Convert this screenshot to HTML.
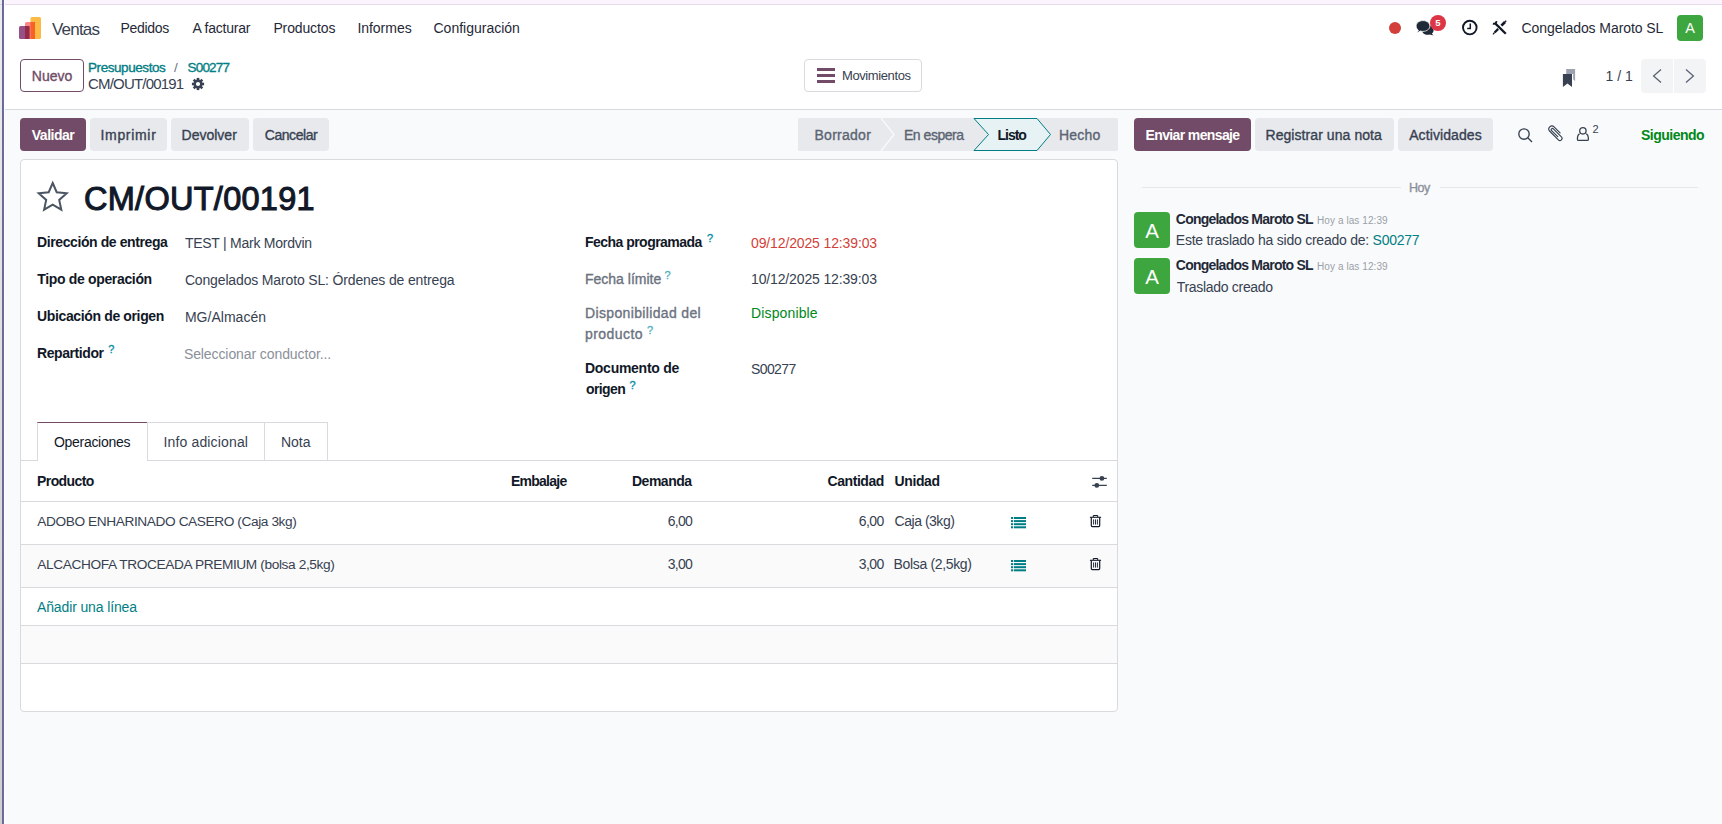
<!DOCTYPE html>
<html lang="es">
<head>
<meta charset="utf-8">
<title>Odoo - CM/OUT/00191</title>
<style>
*{box-sizing:border-box;margin:0;padding:0}
html,body{width:1722px;height:824px;overflow:hidden}
body{font-family:"Liberation Sans",sans-serif;font-size:14px;line-height:21px;color:#374151;background:#f9fafb;position:relative}
.abs{position:absolute}
.t{position:absolute;white-space:nowrap;line-height:20px;height:20px}
.sb{-webkit-text-stroke:0.35px currentColor}
.b{font-weight:bold}
.teal{color:#017e84}
/* window chrome on the left/top */
#edge0{left:0;top:0;width:2px;height:824px;background:linear-gradient(#ececec,#cfcfcf)}
#edge3{left:4px;top:0;width:1px;height:824px;background:#fff}
#edge1{left:2px;top:0;width:1px;height:824px;background:#6e6e6e}
#edge2{left:3px;top:0;width:1px;height:824px;background:#6666cc}
#topstrip{left:5px;top:0;width:1718px;height:4px;background:#fdf5fd}
#topline{left:5px;top:4px;width:1717px;height:1px;background:#e4dcea}
#topline2{left:0;top:4px;width:2px;height:1px;background:#d8d0dc}
/* navbar */
#navbar{left:4px;top:5px;width:1718px;height:46px;background:#fff}
#cpanel{left:4px;top:51px;width:1718px;height:59px;background:#fff;border-bottom:1px solid #d8dadd}
.btn{position:absolute;height:33px;border-radius:4px;background:#e7e9ed;color:#374151;text-align:center;line-height:35px;white-space:nowrap}
.btn.pri{background:#714b67;color:#fff;font-weight:bold}
.btn.out{background:#fff;border:1px solid #714b67;color:#714b67;line-height:33px}
/* sheet */
#sheet{left:20px;top:159px;width:1098px;height:553px;background:#fff;border:1px solid #d8dadd;border-radius:4px}
.hl{position:absolute;height:1px;background:#d8dadd}
.vl{position:absolute;width:1px;background:#d8dadd}
.q{color:#0b8fa6;font-size:11px;font-weight:normal;-webkit-text-stroke:.35px currentColor;position:absolute;line-height:12px}
.mut{color:#6b7280}
.avatar{position:absolute;background:#3ea63e;color:#fff;border-radius:4px;text-align:center}
#bDevolver,#bNota{position:relative;left:-0.8px}
/*LS-START*/
#n0{letter-spacing:-0.80px;left:52.0px !important}
#n1{letter-spacing:-0.30px;left:120.5px !important}
#n2{letter-spacing:-0.20px;left:192.4px !important}
#n3{letter-spacing:-0.13px;left:273.4px !important}
#n4{letter-spacing:-0.03px;left:357.4px !important}
#n5{letter-spacing:0.00px;left:433.5px !important}
#n6{letter-spacing:-0.07px;left:1521.5px !important}
#bNuevo{letter-spacing:-0.03px}
#c0{letter-spacing:-0.43px;left:88.0px !important}
#c1{letter-spacing:0.00px;left:174.0px !important}
#c2{letter-spacing:-0.80px;left:187.5px !important}
#c3{letter-spacing:-0.81px;left:88.0px !important}
#c4{letter-spacing:-0.40px;left:842.0px !important}
#c5{letter-spacing:0.03px;left:1605.5px !important}
#bValidar{letter-spacing:-0.51px}
#bImprimir{letter-spacing:0.69px}
#bDevolver{letter-spacing:0.00px}
#bCancelar{letter-spacing:-0.45px}
#s0{letter-spacing:0.26px;left:814.5px !important}
#s1{letter-spacing:-0.48px;left:904.0px !important}
#s2{letter-spacing:-1.03px;left:997.5px !important}
#s3{letter-spacing:0.22px;left:1059.0px !important}
#bEnviar{letter-spacing:-0.63px}
#bNota{letter-spacing:0.07px}
#bAct{letter-spacing:0.10px}
#ch0{letter-spacing:-0.50px;left:1641.0px !important}
#ch2{letter-spacing:-0.50px;left:1409.0px !important}
#m0{letter-spacing:-0.77px;left:1175.8px !important}
#m1{letter-spacing:0.08px;left:1317.0px !important}
#m2{letter-spacing:-0.24px;left:1175.8px !important}
#m3{letter-spacing:-0.77px;left:1175.8px !important}
#m4{letter-spacing:0.08px;left:1317.0px !important}
#m5{letter-spacing:-0.31px;left:1176.8px !important}
#h1{letter-spacing:0.28px;left:84.0px !important}
#l0{letter-spacing:-0.40px;left:37.0px !important}
#v0{letter-spacing:-0.25px;left:184.9px !important}
#l1{letter-spacing:-0.34px;left:37.3px !important}
#v1{letter-spacing:-0.15px;left:184.9px !important}
#l2{letter-spacing:-0.36px;left:37.0px !important}
#v2{letter-spacing:0.03px;left:184.9px !important}
#l3{letter-spacing:-0.42px;left:37.0px !important}
#v3{letter-spacing:-0.09px;left:183.9px !important}
#l4{letter-spacing:-0.53px;left:585.0px !important}
#v4{letter-spacing:-0.13px;left:751.0px !important}
#l5{letter-spacing:0.00px;left:585.0px !important}
#v5{letter-spacing:-0.14px;left:751.0px !important}
#l6{letter-spacing:0.35px;left:585.0px !important}
#l7{letter-spacing:0.43px;left:585.0px !important}
#v6{letter-spacing:0.14px;left:751.0px !important}
#l8{letter-spacing:-0.27px;left:585.0px !important}
#l9{letter-spacing:-0.60px;left:586.0px !important}
#v7{letter-spacing:-0.60px;left:751.0px !important}
#tb0{letter-spacing:-0.30px;left:54.0px !important}
#tb1{letter-spacing:0.16px;left:163.4px !important}
#tb2{letter-spacing:0.00px;left:280.9px !important}
#th0{letter-spacing:-0.58px;left:37.0px !important}
#th1{letter-spacing:-0.73px;left:510.9px !important}
#th2{letter-spacing:-0.50px;left:632.0px !important}
#th3{letter-spacing:-0.43px;left:827.5px !important}
#th4{letter-spacing:-0.40px;left:894.6px !important}
#r0a{letter-spacing:-0.41px;left:37.3px !important}
#r0b{letter-spacing:-0.72px;left:667.7px !important}
#r0c{letter-spacing:-0.58px;left:858.8px !important}
#r0d{letter-spacing:-0.48px;left:894.6px !important}
#r1a{letter-spacing:-0.38px;left:37.3px !important}
#r1b{letter-spacing:-0.72px;left:667.7px !important}
#r1c{letter-spacing:-0.58px;left:858.8px !important}
#r1d{letter-spacing:-0.35px;left:893.6px !important}
#r2a{letter-spacing:-0.13px;left:37.0px !important}
/*LS-END*/
</style>
</head>
<body>
<div class="abs" id="navbar"></div>
<div class="abs" id="cpanel"></div>
<div class="abs" id="edge0"></div><div class="abs" id="edge1"></div><div class="abs" id="edge2"></div><div class="abs" id="edge3"></div>
<div class="abs" id="topstrip"></div><div class="abs" id="topline"></div><div class="abs" id="topline2"></div>

<!-- NAVBAR -->
<svg class="abs" style="left:19px;top:17px" width="22" height="22" viewBox="0 0 22 22">
  <rect x="11.5" y="0" width="10.5" height="22" rx="1.6" fill="#fbb945"/>
  <rect x="6" y="5" width="10" height="17" rx="1.6" fill="#fc868b"/>
  <rect x="11.5" y="5" width="4.5" height="17" fill="#f86126"/>
  <rect x="0" y="9" width="10.5" height="13" rx="1.6" fill="#985184"/>
  <rect x="6" y="9" width="4.5" height="13" fill="#962b48"/>
</svg>
<span class="t" id="n0" style="left:51px;top:20px;font-size:17px;color:#374151">Ventas</span>
<span class="t" id="n1" style="left:121px;top:18px;color:#1f2937">Pedidos</span>
<span class="t" id="n2" style="left:191.5px;top:18px;color:#1f2937">A facturar</span>
<span class="t" id="n3" style="left:273.5px;top:18px;color:#1f2937">Productos</span>
<span class="t" id="n4" style="left:357.5px;top:18px;color:#1f2937">Informes</span>
<span class="t" id="n5" style="left:433.5px;top:18px;color:#1f2937">Configuración</span>

<div class="abs" style="left:1389px;top:22px;width:12px;height:12px;border-radius:50%;background:#d23f3a"></div>
<span class="t" id="n6" style="left:1521.5px;top:18px;color:#1f2937">Congelados Maroto SL</span>
<div class="avatar" style="left:1677px;top:15px;width:26px;height:26px;font-size:14.5px;line-height:26px;border-radius:4px">A</div>

<!-- CONTROL PANEL -->
<div class="btn out sb" style="left:20px;top:59px;width:64px"><span id="bNuevo">Nuevo</span></div>
<span class="t sb teal" id="c0" style="left:88px;top:58px;font-size:13.5px">Presupuestos</span>
<span class="t" id="c1" style="left:174px;top:58px;font-size:13.5px;color:#6b7280">/</span>
<span class="t sb teal" id="c2" style="left:187.5px;top:58px;font-size:13.5px">S00277</span>
<span class="t" id="c3" style="left:88px;top:74px;font-size:15px;color:#374151">CM/OUT/00191</span>

<div class="abs" style="left:804px;top:59px;width:118px;height:33px;border:1px solid #d8dadd;border-radius:4px;background:#fff"></div>
<div class="abs" style="left:817px;top:68px;width:18px;height:3px;background:#714b67"></div>
<div class="abs" style="left:817px;top:74px;width:18px;height:3px;background:#714b67"></div>
<div class="abs" style="left:817px;top:80px;width:18px;height:3px;background:#714b67"></div>
<span class="t" id="c4" style="left:842px;top:66px;font-size:13px;color:#374151">Movimientos</span>

<span class="t" id="c5" style="left:1605.5px;top:66px;color:#374151">1 / 1</span>
<div class="abs" style="left:1641px;top:59px;width:32px;height:34px;background:#f3f4f6;border-radius:4px 0 0 4px"></div>
<div class="abs" style="left:1674px;top:59px;width:32px;height:34px;background:#f3f4f6;border-radius:0 4px 4px 0"></div>
<svg class="abs" style="left:1641px;top:59px" width="65" height="34" viewBox="0 0 65 34" fill="none" stroke="#5b6370" stroke-width="1.3"><polyline points="20,10.5 12.6,17 20,23.5"/><polyline points="45,10.5 52.4,17 45,23.5"/></svg>

<!-- STATUS BAR BUTTONS -->
<div class="btn pri" style="left:20px;top:118px;width:66px"><span id="bValidar">Validar</span></div>
<div class="btn sb" style="left:90px;top:118px;width:77px"><span id="bImprimir">Imprimir</span></div>
<div class="btn sb" style="left:171px;top:118px;width:78px"><span id="bDevolver">Devolver</span></div>
<div class="btn sb" style="left:253px;top:118px;width:76px"><span id="bCancelar">Cancelar</span></div>

<!-- STATUS ARROWS -->
<svg class="abs" style="left:798px;top:118px" width="320" height="33" viewBox="0 0 320 33">
  <rect x="0" y="0" width="320" height="33" rx="1.5" fill="#e7e9ed"/>
  <polyline points="83,0 96,16.5 83,33" fill="none" stroke="#f9fafb" stroke-width="1.3"/>
  <polygon points="176,0.5 239,0.5 252.5,16.5 239,32.5 176,32.5 190.5,16.5" fill="#e6f2f3" stroke="#017e84" stroke-width="1"/>
</svg>
<span class="t sb" id="s0" style="left:815.5px;top:124.5px;color:#5b6472">Borrador</span>
<span class="t sb" id="s1" style="left:904px;top:124.5px;color:#5b6472">En espera</span>
<span class="t b" id="s2" style="left:997.5px;top:124.5px;color:#111827">Listo</span>
<span class="t sb" id="s3" style="left:1060px;top:124.5px;color:#5b6472">Hecho</span>

<!-- CHATTER TOP -->
<div class="btn pri" style="left:1134px;top:118px;width:117px"><span id="bEnviar">Enviar mensaje</span></div>
<div class="btn sb" style="left:1255px;top:118px;width:139px"><span id="bNota">Registrar una nota</span></div>
<div class="btn sb" style="left:1398px;top:118px;width:95px"><span id="bAct">Actividades</span></div>
<span class="t b" id="ch0" style="left:1641px;top:124.5px;color:#008818">Siguiendo</span>
<span class="t" id="ch1" style="left:1592.5px;top:119px;font-size:11px;color:#374151">2</span>

<div class="hl" style="left:1142px;top:187px;width:259px;background:#e5e7eb"></div>
<div class="hl" style="left:1440px;top:187px;width:258px;background:#e5e7eb"></div>
<span class="t sb" id="ch2" style="left:1409px;top:177.5px;font-size:12.5px;color:#8b909a">Hoy</span>

<div class="avatar" style="left:1134px;top:212px;width:36px;height:36px;font-size:20.5px;line-height:37px">A</div>
<span class="t b" id="m0" style="left:1176px;top:209px;color:#1f2937">Congelados Maroto SL</span>
<span class="t" id="m1" style="left:1318px;top:211px;font-size:10px;color:#9aa0a8">Hoy a las 12:39</span>
<span class="t" id="m2" style="left:1176px;top:230px;color:#374151">Este traslado ha sido creado de: <span class="teal" id="m2b">S00277</span></span>
<div class="avatar" style="left:1134px;top:258px;width:36px;height:36px;font-size:20.5px;line-height:37px">A</div>
<span class="t b" id="m3" style="left:1176px;top:255px;color:#1f2937">Congelados Maroto SL</span>
<span class="t" id="m4" style="left:1318px;top:257px;font-size:10px;color:#9aa0a8">Hoy a las 12:39</span>
<span class="t" id="m5" style="left:1176px;top:277px;color:#374151">Traslado creado</span>

<!-- FORM SHEET -->
<div class="abs" id="sheet"></div>
<span class="t" id="h1" style="left:84px;top:177px;font-size:32.5px;line-height:44px;height:44px;color:#111827;-webkit-text-stroke:1.05px #111827">CM/OUT/00191</span>

<span class="t b" id="l0" style="left:37px;top:232px;color:#111827">Dirección de entrega</span>
<span class="t" id="v0" style="left:185px;top:233px">TEST | Mark Mordvin</span>
<span class="t b" id="l1" style="left:37px;top:269px;color:#111827">Tipo de operación</span>
<span class="t" id="v1" style="left:185px;top:270px">Congelados Maroto SL: Órdenes de entrega</span>
<span class="t b" id="l2" style="left:37px;top:306px;color:#111827">Ubicación de origen</span>
<span class="t" id="v2" style="left:185px;top:307px">MG/Almacén</span>
<span class="t b" id="l3" style="left:37px;top:343px;color:#111827">Repartidor</span>
<span class="q" style="left:108.2px;top:343px">?</span>
<span class="t" id="v3" style="left:185px;top:344px;color:#8b909a">Seleccionar conductor...</span>

<span class="t b" id="l4" style="left:585px;top:232px;color:#111827">Fecha programada</span>
<span class="q" style="left:707px;top:232px">?</span>
<span class="t" id="v4" style="left:751px;top:233px;color:#d23f3a">09/12/2025 12:39:03</span>
<span class="t sb mut" id="l5" style="left:585px;top:269px">Fecha límite</span>
<span class="q" style="left:664.5px;top:269px;opacity:.7">?</span>
<span class="t" id="v5" style="left:751px;top:269px">10/12/2025 12:39:03</span>
<span class="t sb mut" id="l6" style="left:585px;top:303px">Disponibilidad del</span>
<span class="t sb mut" id="l7" style="left:585px;top:324px">producto</span>
<span class="q" style="left:647px;top:324px;opacity:.7">?</span>
<span class="t" id="v6" style="left:751px;top:303px;color:#008818">Disponible</span>
<span class="t b" id="l8" style="left:585px;top:358px;color:#111827">Documento de</span>
<span class="t b" id="l9" style="left:585px;top:379px;color:#111827">origen</span>
<span class="q" style="left:629.5px;top:379px">?</span>
<span class="t" id="v7" style="left:751px;top:359px">S00277</span>

<!-- NOTEBOOK TABS -->
<div class="hl" style="left:21px;top:460px;width:1096px"></div>
<div class="abs" style="left:37px;top:422px;width:111px;height:39px;background:#fff;border:1px solid #d8dadd;border-top-color:#714b67;border-bottom:none"></div>
<div class="abs" style="left:147px;top:422px;width:118px;height:38px;border:1px solid #d8dadd;border-bottom:none;border-left:none"></div>
<div class="abs" style="left:264px;top:422px;width:64px;height:38px;border:1px solid #d8dadd;border-bottom:none;border-left:none"></div>
<span class="t" id="tb0" style="left:54px;top:432px;color:#111827">Operaciones</span>
<span class="t" id="tb1" style="left:164.5px;top:432px">Info adicional</span>
<span class="t" id="tb2" style="left:281px;top:432px">Nota</span>

<!-- TABLE -->
<span class="t b" id="th0" style="left:37px;top:471px;color:#111827">Producto</span>
<span class="t b" id="th1" style="left:510.5px;top:471px;color:#111827">Embalaje</span>
<span class="t b" id="th2" style="left:632px;top:471px;color:#111827">Demanda</span>
<span class="t b" id="th3" style="left:827.5px;top:471px;color:#111827">Cantidad</span>
<span class="t b" id="th4" style="left:894px;top:471px;color:#111827">Unidad</span>
<div class="hl" style="left:21px;top:501px;width:1096px"></div>
<span class="t" id="r0a" style="left:37px;top:512px;font-size:13.7px">ADOBO ENHARINADO CASERO (Caja 3kg)</span>
<span class="t" id="r0b" style="left:667.5px;top:511px">6,00</span>
<span class="t" id="r0c" style="left:859px;top:511px">6,00</span>
<span class="t" id="r0d" style="left:894px;top:511px">Caja (3kg)</span>
<div class="hl" style="left:21px;top:544px;width:1096px"></div>
<div class="abs" style="left:21px;top:545px;width:1096px;height:42px;background:#fafafa"></div>
<span class="t" id="r1a" style="left:37px;top:555px;font-size:13.7px">ALCACHOFA TROCEADA PREMIUM (bolsa 2,5kg)</span>
<span class="t" id="r1b" style="left:667.5px;top:554px">3,00</span>
<span class="t" id="r1c" style="left:859px;top:554px">3,00</span>
<span class="t" id="r1d" style="left:894px;top:554px">Bolsa (2,5kg)</span>
<div class="hl" style="left:21px;top:587px;width:1096px"></div>
<span class="t teal" id="r2a" style="left:37px;top:597px">Añadir una línea</span>
<div class="hl" style="left:21px;top:625px;width:1096px"></div>
<div class="abs" style="left:21px;top:626px;width:1096px;height:37px;background:#fafafa"></div>
<div class="hl" style="left:21px;top:663px;width:1096px"></div>


<!-- ICONS -->
<svg class="abs" style="left:1414px;top:18px" width="24" height="20" viewBox="0 0 24 20">
  <path d="M13.6 7.5 C17.2 7.5 19.6 9.6 19.6 12.2 C19.6 13.6 18.9 14.8 17.8 15.6 C18.2 16.4 18.9 16.9 19.6 17.2 C18.2 17.3 16.9 17 15.9 16.4 C15.2 16.6 14.4 16.7 13.6 16.7 C10.4 16.7 8 14.6 8 12.2 Z" fill="#1f2937"/>
  <path d="M9 2.6 C12.8 2.6 15.9 5 15.9 8 C15.9 11 12.8 13.4 9 13.4 C8.1 13.4 7.2 13.3 6.4 13 C5.4 13.8 4.1 14.4 2.7 14.5 C3.5 13.9 4.1 13.1 4.4 12.2 C3 11.2 2.1 9.7 2.1 8 C2.1 5 5.2 2.6 9 2.6 Z" fill="#1f2937" stroke="#fff" stroke-width="0.8"/>
</svg>
<div class="abs" style="left:1430px;top:15px;width:16px;height:16px;border-radius:8px;background:#dc3545;color:#fff;font-size:9.5px;font-weight:bold;line-height:16.5px;text-align:center">5</div>
<svg class="abs" style="left:1460px;top:18px" width="20" height="20" viewBox="0 0 20 20" fill="none" stroke="#111827">
  <circle cx="9.8" cy="9.6" r="6.8" stroke-width="1.9"/>
  <polyline points="10.3,5.6 10.3,10.4 7.2,10.4" stroke-width="1.5"/>
</svg>
<svg class="abs" style="left:1491px;top:19px" width="18" height="18" viewBox="0 0 18 18" fill="none" stroke="#111827" stroke-linecap="butt">
  <path d="M4.2 4.4 L14.8 14.8" stroke-width="2.3"/>
  <path d="M1.9 4.6 A2.8 2.8 0 0 0 5.6 2.2" stroke-width="1.8"/>
  <path d="M14 3 L10.4 6.6" stroke-width="2.7"/>
  <path d="M7.2 9.9 L3.6 13.5" stroke-width="2.2"/>
  <path d="M3.6 13.5 L2 15.4" stroke-width="1.2"/>
  <path d="M15.2 1.8 L13.9 3.1" stroke-width="1.4"/>
</svg>
<svg class="abs" style="left:1561px;top:67px" width="16" height="22" viewBox="0 0 16 22">
  <path d="M5.2 2.1 H14.1 V14 L12.2 12.6 V7 H5.2 Z" fill="#9ca3af"/>
  <path d="M1.9 7 H11 V20 L6.45 16.6 L1.9 20 Z" fill="#374151"/>
</svg>
<svg class="abs" style="left:191px;top:77px" width="14" height="14" viewBox="-7 -7 14 14">
  <g fill="#374151">
    <rect x="-1.3" y="-6.1" width="2.6" height="12.2"/>
    <rect x="-1.3" y="-6.1" width="2.6" height="12.2" transform="rotate(45)"/>
    <rect x="-1.3" y="-6.1" width="2.6" height="12.2" transform="rotate(90)"/>
    <rect x="-1.3" y="-6.1" width="2.6" height="12.2" transform="rotate(135)"/>
    <circle r="4.5"/>
  </g>
  <circle r="2.1" fill="#fff"/>
</svg>
<svg class="abs" style="left:35px;top:179px" width="36" height="36" viewBox="0 0 36 36">
  <path d="M17.7 4 L21.7 13.2 L31.7 14.2 L24.2 20.9 L26.3 30.7 L17.7 25.6 L9.1 30.7 L11.2 20.9 L3.7 14.2 L13.7 13.2 Z" fill="none" stroke="#4b5563" stroke-width="2" stroke-linejoin="miter"/>
</svg>
<svg class="abs" style="left:1516px;top:126px" width="18" height="18" viewBox="0 0 18 18" fill="none" stroke="#374151" stroke-width="1.35">
  <circle cx="8" cy="8" r="5.2"/><path d="M11.8 11.8 L16 15.9"/>
</svg>
<svg class="abs" style="left:1546px;top:124px" width="20" height="20" viewBox="0 0 20 20" fill="none" stroke="#374151" stroke-width="1.15" stroke-linecap="round">
  <path transform="translate(9.9 9.6) rotate(135) scale(-1 1)" d="M-0.9 -3.5 L-0.9 5.2 A1.25 1.25 0 0 0 1.6 5.2 L1.6 -6.2 A2.15 2.15 0 0 0 -2.7 -6.2 L-2.7 6 A3.05 3.05 0 0 0 3.4 6 L3.4 -2.5"/>
</svg>
<svg class="abs" style="left:1575px;top:125px" width="16" height="18" viewBox="0 0 16 18" fill="none" stroke="#374151" stroke-width="1.3">
  <circle cx="7.9" cy="5.8" r="3.2"/>
  <path d="M4.6 8.9 C2.6 9.8 2.4 12.6 2.4 14.2 C2.4 15 2.9 15.4 3.6 15.4 H12.2 C12.9 15.4 13.4 15 13.4 14.2 C13.4 12.6 13.2 9.8 11.2 8.9"/>
</svg>
<svg class="abs" style="left:1091px;top:474px" width="17" height="16" viewBox="0 0 17 16">
  <path d="M1.2 4.4 H15.8 M1.2 11.4 H15.8" stroke="#374151" stroke-width="1.1"/>
  <circle cx="10.9" cy="4.4" r="2.4" fill="#374151"/><circle cx="5.8" cy="11.4" r="2.4" fill="#374151"/>
</svg>
<svg class="abs" id="li0" style="left:1011px;top:517px" width="15" height="12" viewBox="0 0 15 12" fill="#017e84">
  <rect x="0" y="0" width="2" height="2"/><rect x="2.8" y="0" width="12.2" height="2"/>
  <rect x="0" y="3.1" width="2" height="2"/><rect x="2.8" y="3.1" width="12.2" height="2"/>
  <rect x="0" y="6.2" width="2" height="2"/><rect x="2.8" y="6.2" width="12.2" height="2"/>
  <rect x="0" y="9.3" width="2" height="2"/><rect x="2.8" y="9.3" width="12.2" height="2"/>
</svg>
<svg class="abs" id="li1" style="left:1011px;top:560px" width="15" height="12" viewBox="0 0 15 12" fill="#017e84">
  <rect x="0" y="0" width="2" height="2"/><rect x="2.8" y="0" width="12.2" height="2"/>
  <rect x="0" y="3.1" width="2" height="2"/><rect x="2.8" y="3.1" width="12.2" height="2"/>
  <rect x="0" y="6.2" width="2" height="2"/><rect x="2.8" y="6.2" width="12.2" height="2"/>
  <rect x="0" y="9.3" width="2" height="2"/><rect x="2.8" y="9.3" width="12.2" height="2"/>
</svg>
<svg class="abs" id="tr0" style="left:1089px;top:514px" width="13" height="14" viewBox="0 0 13 14" fill="none" stroke="#111827">
  <path d="M0.9 3.3 H12.1" stroke-width="1.1"/><path d="M4.3 3 V1.5 H8.7 V3" stroke-width="1"/>
  <path d="M2.3 3.5 V11.6 C2.3 12.3 2.7 12.6 3.3 12.6 H9.7 C10.3 12.6 10.7 12.3 10.7 11.6 V3.5" stroke-width="1.2"/>
  <path d="M4.6 5.4 V10.6 M6.5 5.4 V10.6 M8.4 5.4 V10.6" stroke-width="0.9"/>
</svg>
<svg class="abs" id="tr1" style="left:1089px;top:557px" width="13" height="14" viewBox="0 0 13 14" fill="none" stroke="#111827">
  <path d="M0.9 3.3 H12.1" stroke-width="1.1"/><path d="M4.3 3 V1.5 H8.7 V3" stroke-width="1"/>
  <path d="M2.3 3.5 V11.6 C2.3 12.3 2.7 12.6 3.3 12.6 H9.7 C10.3 12.6 10.7 12.3 10.7 11.6 V3.5" stroke-width="1.2"/>
  <path d="M4.6 5.4 V10.6 M6.5 5.4 V10.6 M8.4 5.4 V10.6" stroke-width="0.9"/>
</svg>
</body>
</html>
